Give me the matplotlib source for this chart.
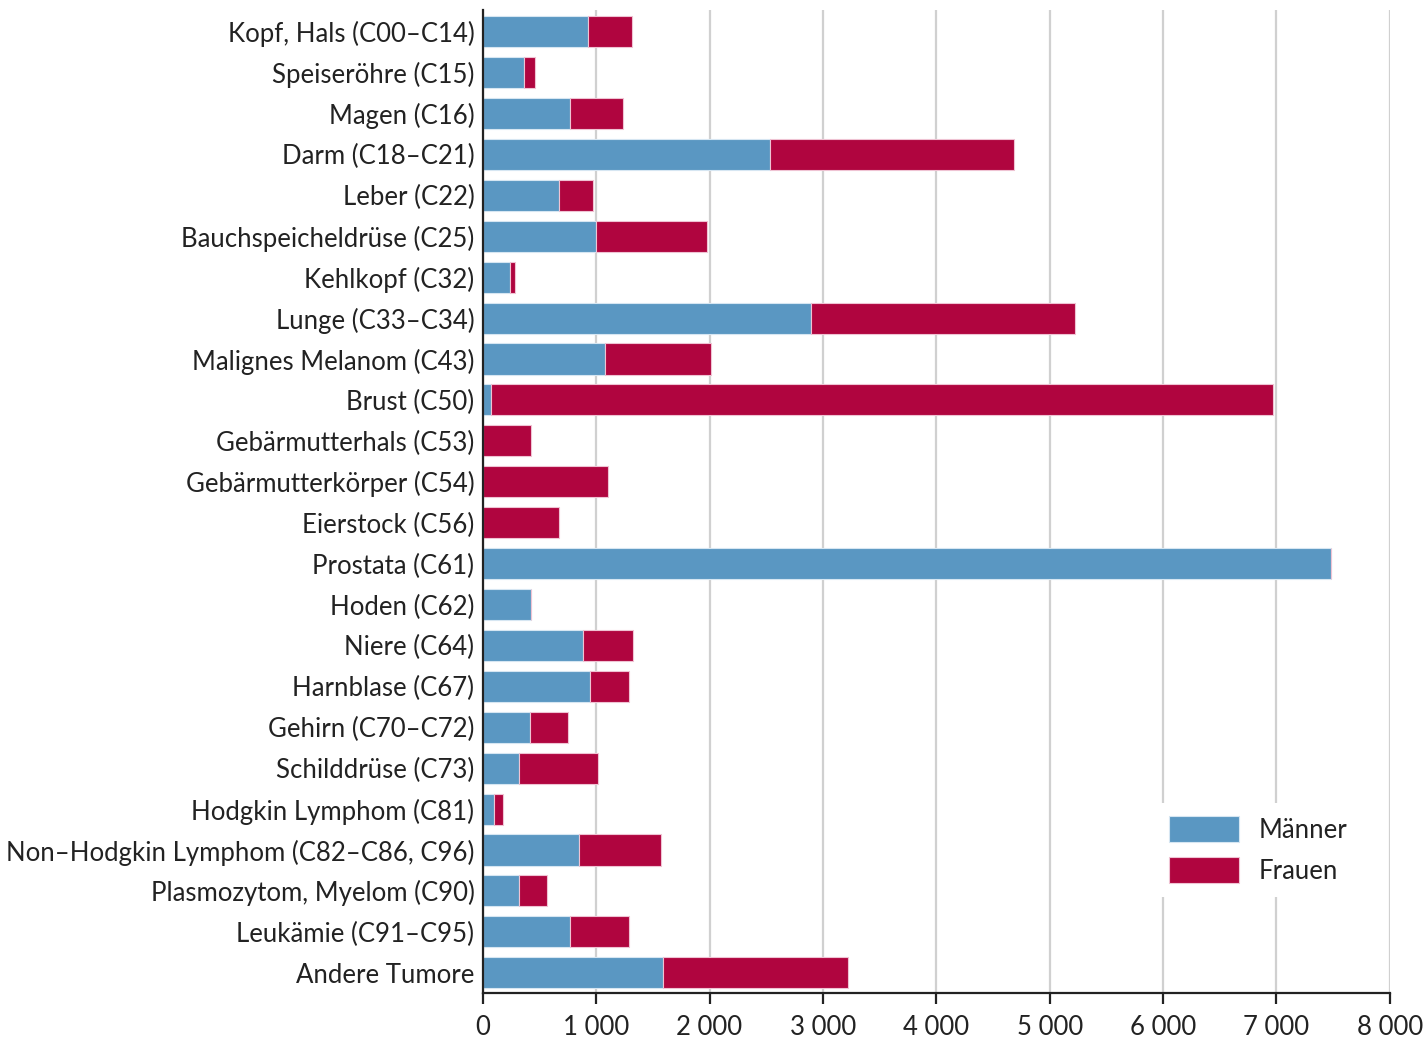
import matplotlib.pyplot as plt
from matplotlib.ticker import FuncFormatter

plt.rcParams["font.family"] = ["Lato", "DejaVu Sans"]

categories = [
    "Kopf, Hals (C00–C14)",
    "Speiseröhre (C15)",
    "Magen (C16)",
    "Darm (C18–C21)",
    "Leber (C22)",
    "Bauchspeicheldrüse (C25)",
    "Kehlkopf (C32)",
    "Lunge (C33–C34)",
    "Malignes Melanom (C43)",
    "Brust (C50)",
    "Gebärmutterhals (C53)",
    "Gebärmutterkörper (C54)",
    "Eierstock (C56)",
    "Prostata (C61)",
    "Hoden (C62)",
    "Niere (C64)",
    "Harnblase (C67)",
    "Gehirn (C70–C72)",
    "Schilddrüse (C73)",
    "Hodgkin Lymphom (C81)",
    "Non–Hodgkin Lymphom (C82–C86, C96)",
    "Plasmozytom, Myelom (C90)",
    "Leukämie (C91–C95)",
    "Andere Tumore",
]

maenner = [929, 360, 773, 2537, 673, 1003, 243, 2895, 1078, 70,
           0, 0, 0, 7481, 430, 884, 949, 420, 320, 100,
           852, 317, 773, 1593]
frauen = [385, 105, 462, 2149, 303, 975, 39, 2332, 933, 6899,
          426, 1105, 673, 0, 0, 445, 338, 332, 697, 79,
          720, 250, 520, 1628]

blue = "#5A97C2"
red = "#B0053F"
fs = 18.5

fig = plt.figure(figsize=(14.24, 10.40), dpi=100)
ax = fig.add_axes([0.339, 0.045, 0.637, 0.945])

y = list(range(len(categories)))
ax.barh(y, maenner, height=0.76, color=blue, edgecolor="#D6E6F2",
        linewidth=0.8, label="Männer", zorder=3)
ax.barh(y, frauen, left=maenner, height=0.76, color=red, edgecolor="#EFC3D3",
        linewidth=0.8, label="Frauen", zorder=3)

ax.set_yticks(y)
ax.set_yticklabels(categories)
ax.set_ylim(len(categories) - 0.5, -0.52)
ax.set_xlim(0, 8000)
ax.set_xticks(range(0, 8001, 1000))
ax.xaxis.set_major_formatter(
    FuncFormatter(lambda v, p: f"{int(v):,}".replace(",", " "))
)

ax.grid(axis="x", color="#D0D0D0", linewidth=1.6, zorder=0)
ax.set_axisbelow(True)
for s in ("top", "right"):
    ax.spines[s].set_visible(False)
ax.spines["left"].set_linewidth(1.6)
ax.spines["bottom"].set_linewidth(1.6)
ax.spines["left"].set_color("#222222")
ax.spines["bottom"].set_color("#222222")
ax.spines["left"].set_zorder(4)

ax.tick_params(axis="y", length=0, pad=6, labelsize=fs, labelcolor="#222222")
ax.tick_params(axis="x", length=8, width=1.6, direction="out", pad=8,
               labelsize=fs, labelcolor="#222222", color="#222222")

leg = ax.legend(loc="lower right", bbox_to_anchor=(0.982, 0.085),
                fontsize=fs, frameon=True, framealpha=1.0, edgecolor="white",
                handlelength=2.72, handleheight=1.2, handletextpad=0.78,
                labelspacing=0.55, borderpad=0.5)
leg.get_frame().set_linewidth(0)
for t in leg.get_texts():
    t.set_color("#222222")

fig.savefig("out.png", dpi=100)
